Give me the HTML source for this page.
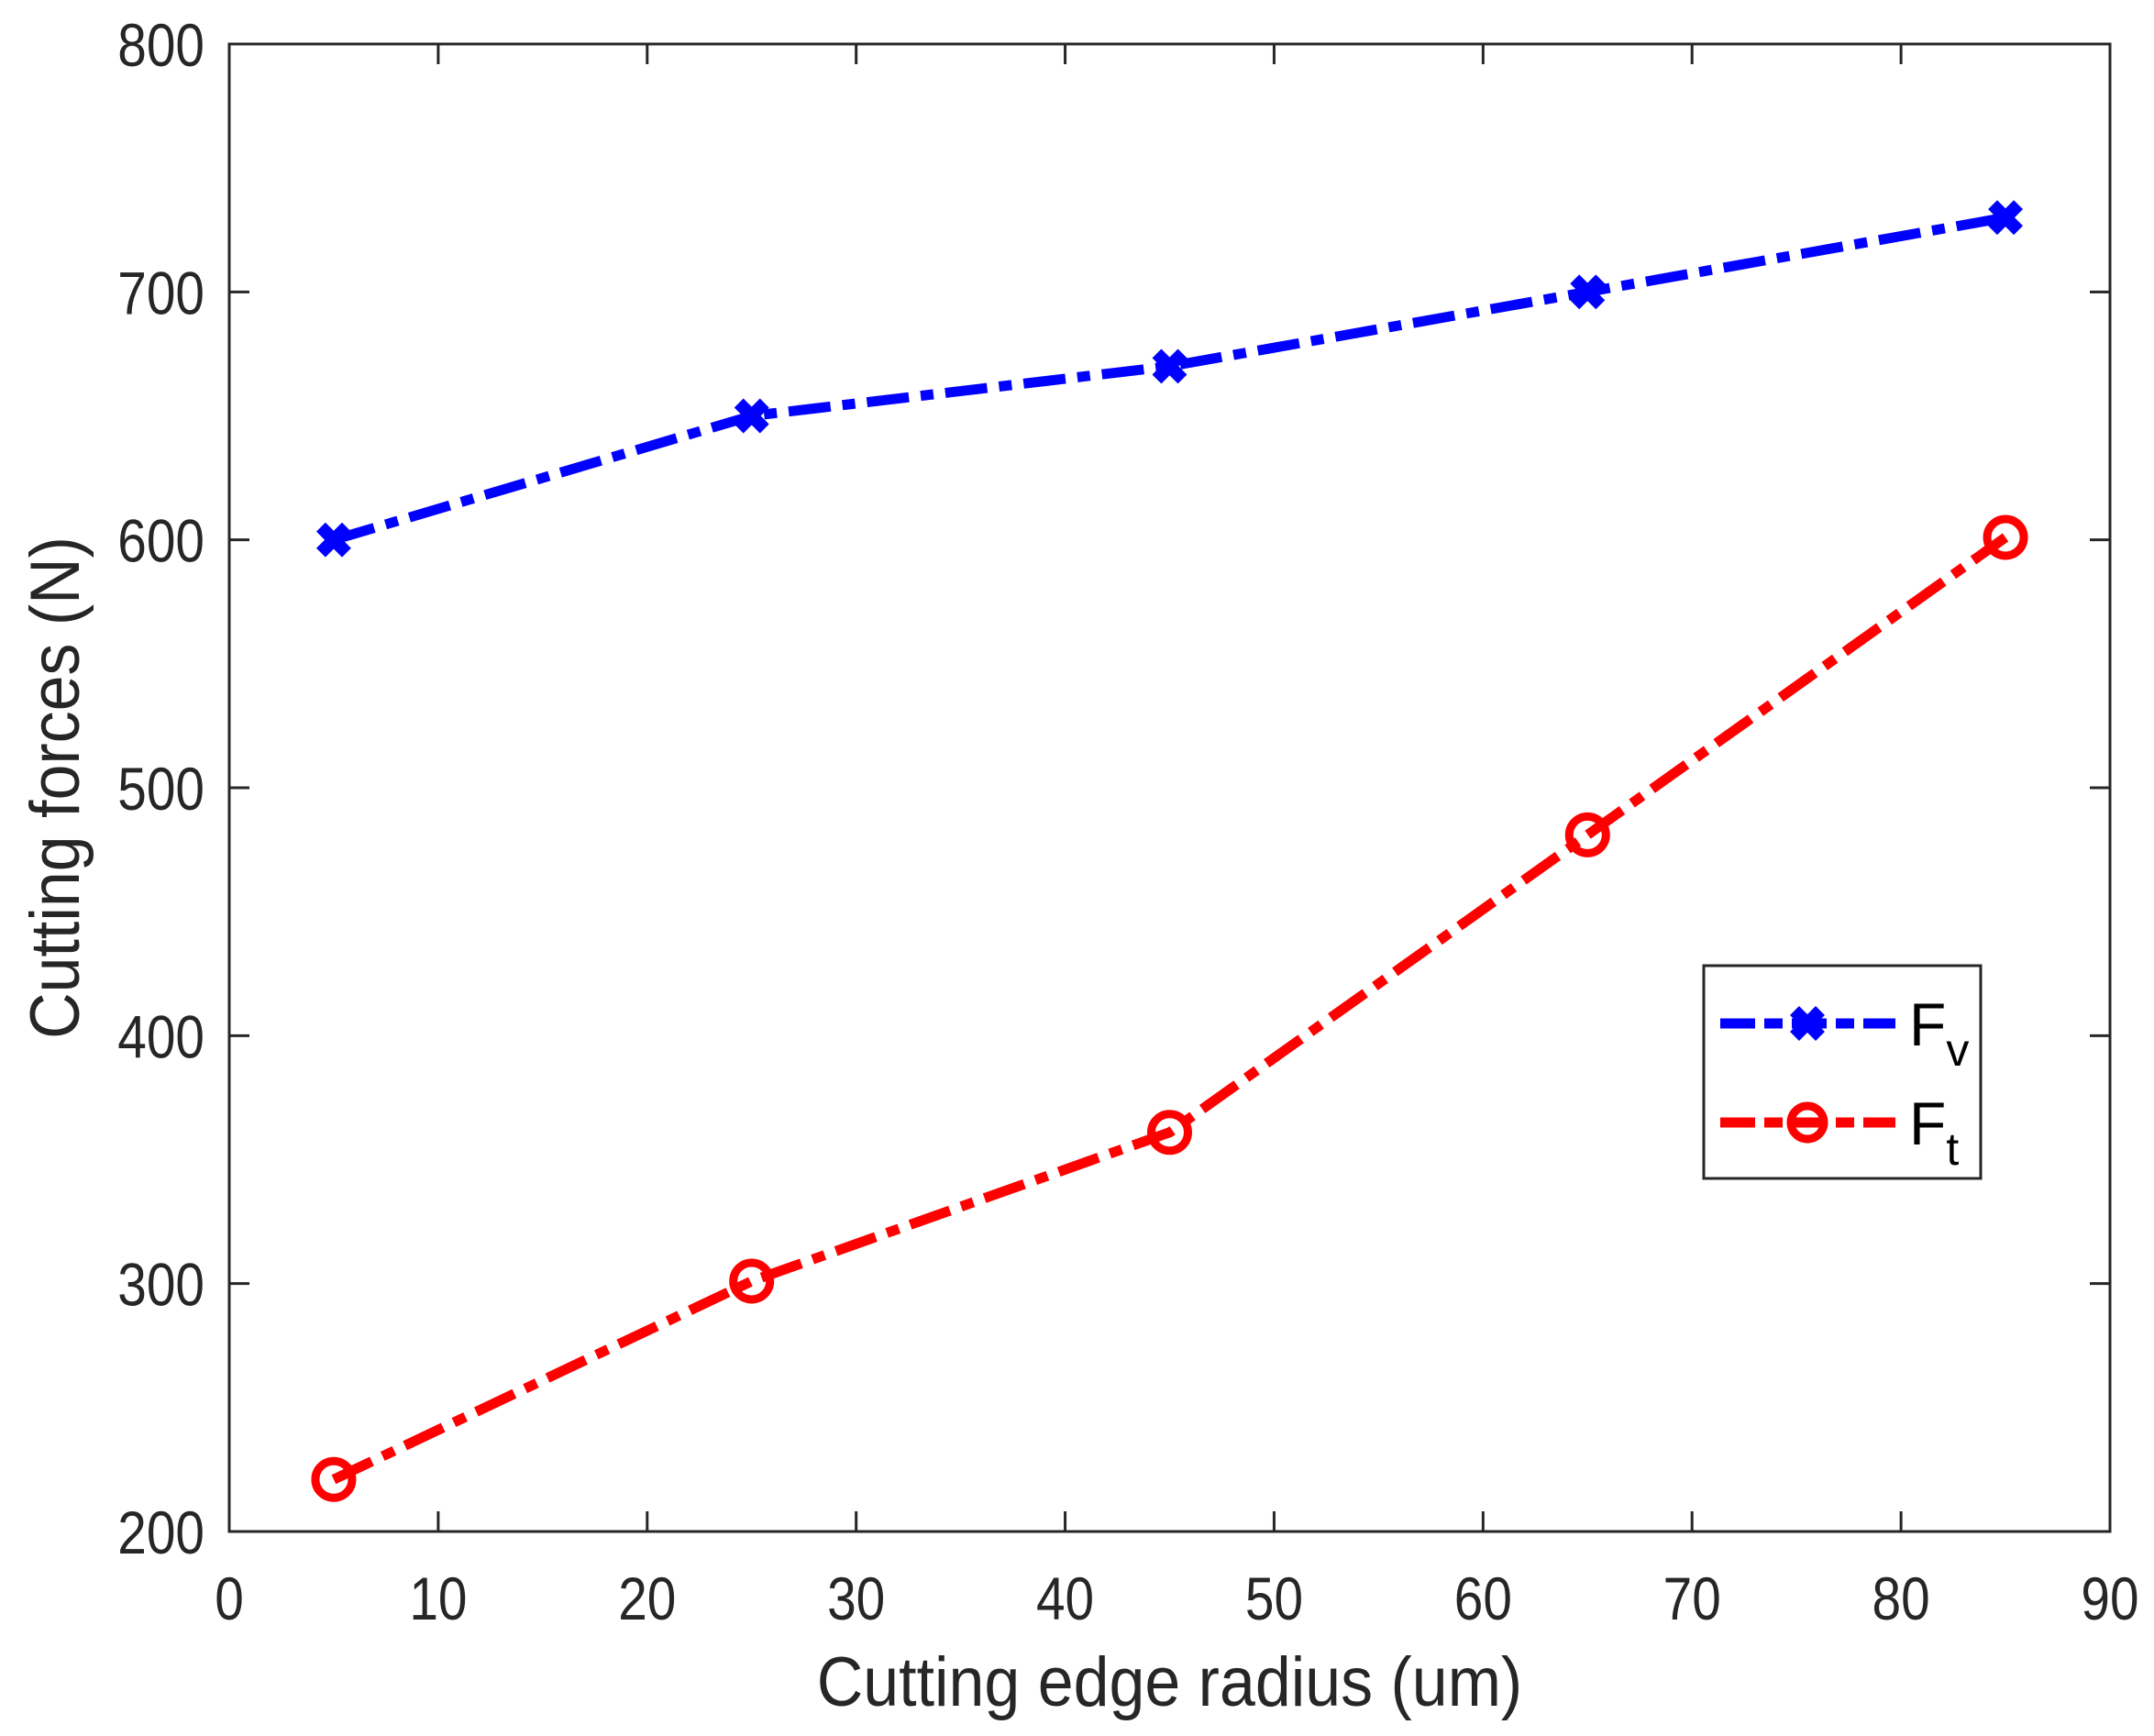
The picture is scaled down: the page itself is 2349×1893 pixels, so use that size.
<!DOCTYPE html>
<html><head><meta charset="utf-8"><style>
body{margin:0;background:#fff}
svg{display:block;font-family:"Liberation Sans",Arial,sans-serif}
</style></head><body>
<svg id="chart" width="2349" height="1893" viewBox="0 0 2349 1893" xmlns="http://www.w3.org/2000/svg"></svg>
<script>
const xCats=[5,25,45,65,85];
const fvValues=[600,650,670,700,730];
const ftValues=[221,301,361,481,601];
const xTicks=[0,10,20,30,40,50,60,70,80,90];
const yTicks=[200,300,400,500,600,700,800];

const L=250,R=2301,T=48,B=1670;
const xs=v=>L+(v-0)/(90-0)*(R-L);
const ys=v=>B-(v-200)/(800-200)*(B-T);
const NS="http://www.w3.org/2000/svg";
const svg=document.getElementById('chart');
function mk(tag,attrs,parent){const e=document.createElementNS(NS,tag);for(const k in attrs)e.setAttribute(k,attrs[k]);(parent||svg).appendChild(e);return e;}
function label(x,y,anchor,txt,parent){
  const t=mk('text',{x:0,y:0,'text-anchor':anchor,'font-size':66,fill:'#262626',transform:`translate(${x},${y}) scale(0.86,1)`},parent);
  t.textContent=txt;return t;
}

xTicks.forEach(t=>{
  const x=xs(t);
  const g=mk('g',{});
  
  
  mk('line',{x1:x,y1:B,x2:x,y2:B-22,stroke:'#262626','stroke-width':3},g);
  mk('line',{x1:x,y1:T,x2:x,y2:T+22,stroke:'#262626','stroke-width':3},g);
  label(x,B+96,'middle',t,g);
});
yTicks.forEach(t=>{
  const y=ys(t);
  const g=mk('g',{});
  
  
  mk('line',{x1:L,y1:y,x2:L+22,y2:y,stroke:'#262626','stroke-width':3},g);
  mk('line',{x1:R,y1:y,x2:R-22,y2:y,stroke:'#262626','stroke-width':3},g);
  label(L-27,y+24,'end',t,g);
});
const frame=mk('rect',{x:L,y:T,width:R-L,height:B-T,fill:'none',stroke:'#262626','stroke-width':3});



const xl=mk('text',{x:0,y:0,'text-anchor':'middle','font-size':76,fill:'#262626',transform:`translate(${(L+R)/2},1860) scale(0.92,1)`});


xl.textContent='Cutting edge radius (um)';
const yl=mk('text',{x:0,y:0,'text-anchor':'middle','font-size':76,fill:'#262626',transform:'translate(86,'+((T+B)/2)+') rotate(-90) scale(0.92,1)'});


yl.textContent='Cutting forces (N)';

const dash='46 13 14 13';
function xMarker(cx,cy,parent){
  const s=14;
  mk('path',{d:`M${cx-s} ${cy-s}L${cx+s} ${cy+s}M${cx-s} ${cy+s}L${cx+s} ${cy-s}`,stroke:'#0000ff','stroke-width':14,fill:'none'},parent);
}
function series(vals,color,name,marker){
  const g=mk('g',{});
  
  
  const pts=xCats.map((c,i)=>xs(c)+','+ys(vals[i])).join(' ');
  mk('polyline',{points:pts,fill:'none',stroke:color,'stroke-width':11,'stroke-dasharray':dash},g);
  xCats.forEach((c,i)=>{
    if(marker==='x'){xMarker(xs(c),ys(vals[i]),g);}
    else{mk('circle',{cx:xs(c),cy:ys(vals[i]),r:20,fill:'none',stroke:color,'stroke-width':9},g);}
  });
}
series(fvValues,'#0000ff','series-fv','x');
series(ftValues,'#ff0000','series-ft','o');

const lg=mk('g',{});


mk('rect',{x:1858,y:1053,width:302,height:232,fill:'#fff',stroke:'#262626','stroke-width':3},lg);
const e1=mk('g',{},lg);


mk('line',{x1:1876,y1:1116,x2:2067,y2:1116,stroke:'#0000ff','stroke-width':11,'stroke-dasharray':'38 10 20 10'},e1);
xMarker(1971,1116,e1);
const t1=mk('text',{x:2082,y:1140,'font-size':66,fill:'#000'},e1);
t1.innerHTML='F<tspan font-size="50" dy="22">v</tspan>';
const e2=mk('g',{},lg);


mk('line',{x1:1876,y1:1224,x2:2067,y2:1224,stroke:'#ff0000','stroke-width':11,'stroke-dasharray':'38 10 20 10'},e2);
mk('circle',{cx:1971,cy:1224,r:18,fill:'none',stroke:'#ff0000','stroke-width':9},e2);
const t2=mk('text',{x:2082,y:1248,'font-size':66,fill:'#000'},e2);
t2.innerHTML='F<tspan font-size="50" dy="22">t</tspan>';
</script>
</body></html>
